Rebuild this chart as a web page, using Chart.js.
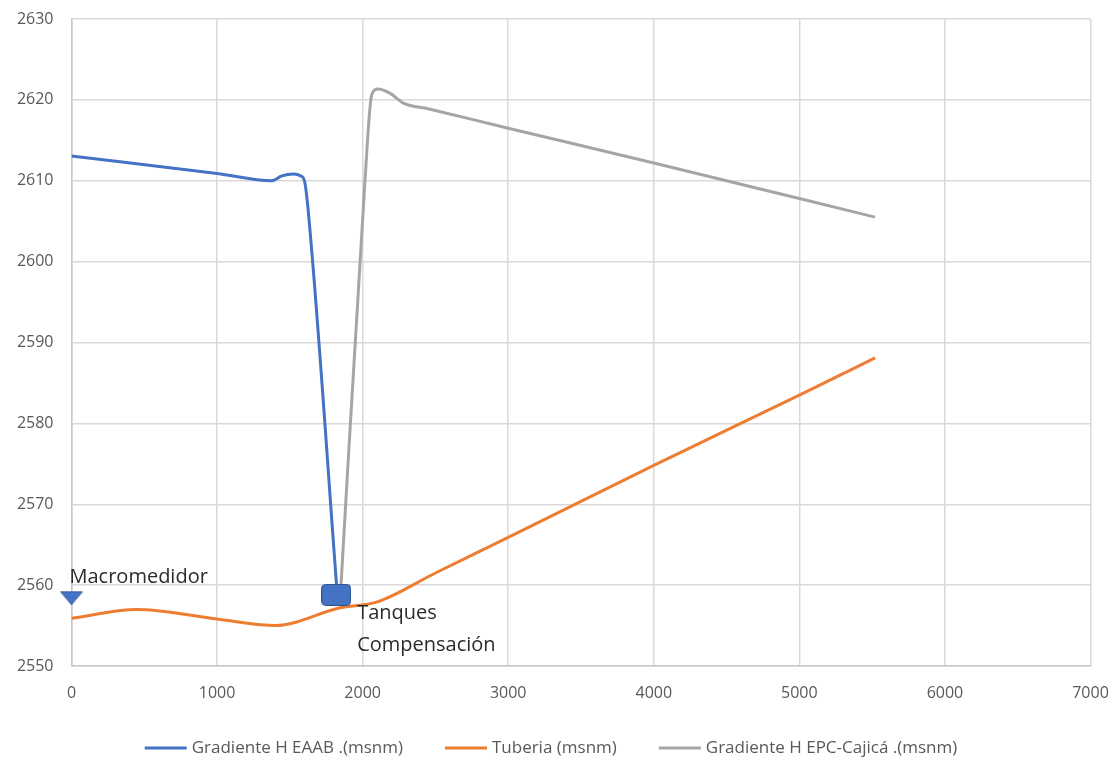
<!DOCTYPE html>
<html>
<head>
<meta charset="utf-8">
<script src="https://cdn.jsdelivr.net/npm/chart.js@4"></script>
<style>
    html, body { margin: 0; padding: 0; background: #fff; }
    #wrap { width: 1114px; height: 761px; position: relative; }
</style>
</head>
<body>
<div id="wrap"><canvas id="perfil"></canvas></div>
<script>
const eaabX = [0, 1000, 1375, 1445, 1525, 1575, 1600, 1625, 1825];
const eaabY = [2613.05, 2610.9, 2610.0, 2610.6, 2610.85, 2610.6, 2610.0, 2606.5, 2559];

const tuberiaX = [0, 447, 1000, 1300, 1400, 1845, 2096, 2500, 3000, 4000, 5000, 5520];
const tuberiaY = [2555.9, 2557.0, 2555.8, 2555.1, 2555.0, 2557.2, 2557.9, 2561.5, 2565.9, 2574.8, 2583.5, 2588.1];

const epcX = [1845, 2016, 2062, 2107, 2190, 2280, 2450, 3000, 4000, 5000, 5520];
const epcY = [2558.0, 2610, 2620.6, 2621.35, 2620.8, 2619.6, 2618.9, 2616.5, 2612.2, 2607.8, 2605.5];

const macromedidor = { x: 0, y: 2558.4, label: ['Macromedidor'] };
const tanques = { x: 1818, y: 2558.8, label: ['Tanques', 'Compensación'] };

const xTicks = [0, 1000, 2000, 3000, 4000, 5000, 6000, 7000];
const yTicks = [2550, 2560, 2570, 2580, 2590, 2600, 2610, 2620, 2630];

const seriesNames = ['Gradiente H EAAB .(msnm)', 'Tuberia (msnm)', 'Gradiente H EPC-Cajicá .(msnm)'];
const seriesColors = ['#4472c4', '#ed7d31', '#a5a5a5'];

const FONT = "'Open Sans', 'Liberation Sans', sans-serif";

function toPoints(xs, ys) {
    return xs.map((x, i) => ({ x: x, y: ys[i] }));
}

// marker images used as point styles
function makeTriangle() {
    const c = document.createElement('canvas');
    c.width = 24; c.height = 15;
    const g = c.getContext('2d');
    g.fillStyle = '#4472c4';
    g.strokeStyle = '#2f528f';
    g.lineWidth = 1;
    g.beginPath();
    g.moveTo(1, 1); g.lineTo(23, 1); g.lineTo(12, 14); g.closePath();
    g.fill(); g.stroke();
    return c;
}

function makeSquare() {
    const c = document.createElement('canvas');
    c.width = 30; c.height = 22;
    const g = c.getContext('2d');
    g.fillStyle = '#4472c4';
    g.strokeStyle = '#2f528f';
    g.lineWidth = 1;
    g.beginPath();
    g.roundRect(0.5, 0.5, 29, 21, 4);
    g.fill(); g.stroke();
    return c;
}

const lineDefaults = {
    showLine: true,
    borderWidth: 3,
    pointRadius: 0,
    cubicInterpolationMode: 'monotone',
    fill: false
};

const datasets = [
    Object.assign({}, lineDefaults, {
        label: seriesNames[0], data: toPoints(eaabX, eaabY),
        borderColor: seriesColors[0], backgroundColor: seriesColors[0], order: 1
    }),
    Object.assign({}, lineDefaults, {
        label: seriesNames[1], data: toPoints(tuberiaX, tuberiaY),
        borderColor: seriesColors[1], backgroundColor: seriesColors[1], order: 3
    }),
    Object.assign({}, lineDefaults, {
        label: seriesNames[2], data: toPoints(epcX, epcY),
        borderColor: seriesColors[2], backgroundColor: seriesColors[2], order: 2
    }),
    {
        label: 'Macromedidor', data: [{ x: macromedidor.x, y: macromedidor.y }],
        showLine: false, pointStyle: makeTriangle(), pointRadius: 12, order: 0, clip: false, noLegend: true
    },
    {
        label: 'Tanques', data: [{ x: tanques.x, y: tanques.y }],
        showLine: false, pointStyle: makeSquare(), pointRadius: 14, order: 0, clip: false, noLegend: true
    }
];

// text next to the markers
const markerLabels = {
    id: 'markerLabels',
    afterDatasetsDraw(chart) {
        const ctx = chart.ctx;
        ctx.save();
        ctx.font = '20px ' + FONT;
        ctx.fillStyle = '#2b2b2b';
        ctx.textBaseline = 'middle';
        ctx.textAlign = 'left';
        const m = chart.getDatasetMeta(3).data[0];
        ctx.fillText(macromedidor.label[0], m.x - 2, m.y - 21);
        const t = chart.getDatasetMeta(4).data[0];
        ctx.fillText(tanques.label[0], t.x + 21, t.y + 18);
        ctx.fillText(tanques.label[1], t.x + 21, t.y + 50);
        ctx.restore();
    }
};

// legend drawn below the axis, line samples like the spreadsheet
const bottomLegend = {
    id: 'bottomLegend',
    afterDraw(chart) {
        const ctx = chart.ctx;
        ctx.save();
        ctx.font = '17px ' + FONT;
        const items = chart.data.datasets.filter(d => !d.noLegend);
        const lineLen = 42, gap = 5, spacing = 42;
        const widths = items.map(d => ctx.measureText(d.label).width);
        let total = 0;
        widths.forEach(w => { total += lineLen + gap + w; });
        total += spacing * (items.length - 1);
        let x = 551 - total / 2;
        const y = 748;
        items.forEach((d, i) => {
            ctx.strokeStyle = d.borderColor;
            ctx.lineWidth = 3;
            ctx.beginPath();
            ctx.moveTo(x, y);
            ctx.lineTo(x + lineLen, y);
            ctx.stroke();
            ctx.fillStyle = '#595959';
            ctx.textBaseline = 'middle';
            ctx.fillText(d.label, x + lineLen + gap, y);
            x += lineLen + gap + widths[i] + spacing;
        });
        ctx.restore();
    }
};

new Chart(document.getElementById('perfil'), {
    type: 'scatter',
    data: { datasets: datasets },
    options: {
        responsive: true,
        maintainAspectRatio: false,
        animation: false,
        layout: { padding: { top: 19, right: 23.5, left: 0, bottom: 0 } },
        plugins: {
            legend: { display: false },
            tooltip: { enabled: false }
        },
        scales: {
            x: {
                type: 'linear',
                min: 0,
                max: 7000,
                afterBuildTicks: scale => { scale.ticks = xTicks.map(v => ({ value: v })); },
                afterFit: scale => {
                    scale.height = 95;
                    scale.paddingLeft = 0;
                    scale.paddingRight = 0;
                },
                grid: { color: '#d9d9d9', lineWidth: 1.5, drawTicks: false },
                border: { color: '#c8c8c8', width: 1.5 },
                ticks: {
                    padding: 18,
                    color: '#595959',
                    font: { family: FONT, size: 16 },
                    maxRotation: 0,
                    callback: v => String(v)
                }
            },
            y: {
                min: 2550,
                max: 2630,
                afterBuildTicks: scale => { scale.ticks = yTicks.map(v => ({ value: v })); },
                afterFit: scale => {
                    scale.width = 71.5;
                    scale.paddingTop = 0;
                    scale.paddingBottom = 0;
                },
                grid: { color: '#d9d9d9', lineWidth: 1.5, drawTicks: false },
                border: { color: '#c8c8c8', width: 1.5 },
                ticks: {
                    padding: 18,
                    color: '#595959',
                    font: { family: FONT, size: 16 },
                    callback: v => String(v)
                }
            }
        }
    },
    plugins: [markerLabels, bottomLegend]
});
</script>
</body>
</html>
